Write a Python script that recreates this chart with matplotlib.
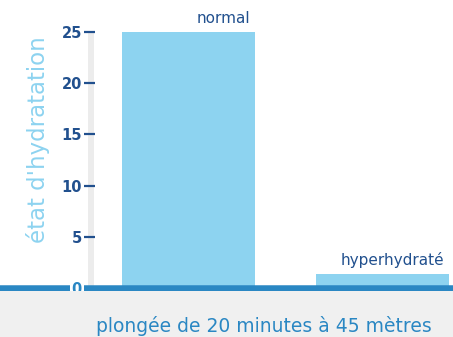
import matplotlib
matplotlib.use("Agg")
import matplotlib.pyplot as plt
from matplotlib.patches import Rectangle

categories = ["normal", "hyperhydraté"]
values = [25, 1.4]
yticks = [0, 5, 10, 15, 20, 25]
ylabel = "état d'hydratation"
xlabel = "plongée de 20 minutes à 45 mètres"

BAR = "#8dd3f0"
LINE = "#2a87c3"
NAVY = "#21508e"
GRAY = "#f0f0f0"

plt.rcParams['font.family'] = ['DejaVu Sans']

W, H = 453, 337
fig = plt.figure(figsize=(W / 100, H / 100), dpi=100)
fig.patch.set_facecolor("white")

# gray bottom band
fig.patches.append(Rectangle((0, 0), 1, (H - 291) / H, transform=fig.transFigure,
                             facecolor=GRAY, edgecolor="none", zorder=0))

ax = fig.add_axes([0, (H - 288) / H, 1, 288 / H])
ax.set_facecolor("none")
ax.set_axisbelow(False)
ax.set_ylim(0, 288 / 10.24)
pos = [0, 1]
ax.set_xlim(-188.5 / 194, (W - 188.5) / 194)

ax.bar(pos, values, width=133 / 194, color=BAR, zorder=2)

# baseline
ax.axhline(0, color=LINE, lw=6.5 * 0.72, zorder=2.2, clip_on=False)

# light gray strip behind ticks
ax.add_patch(Rectangle((88 / W, 0), 6 / W, max(yticks), transform=ax.get_yaxis_transform(),
                       facecolor="#ececec", edgecolor="none", zorder=1))

for s in ["top", "right", "bottom"]:
    ax.spines[s].set_visible(False)
ax.spines["left"].set_visible(False)
ax.spines["left"].set_position(("axes", 95 / W))
ax.set_xticks([])
ax.set_yticks(yticks)
ax.set_yticklabels([str(t) for t in yticks])
ax.tick_params(axis="y", length=11 * 0.72, width=1.6, color=NAVY, pad=1.5,
               labelsize=10.5, labelcolor=NAVY)
for lab in ax.get_yticklabels():
    lab.set_fontweight("bold")
ticks = ax.yaxis.get_major_ticks()
ticks[0].tick1line.set_visible(False)
l0 = ax.get_yticklabels()[0]
l0.set_color(LINE)
l0.set_bbox(dict(facecolor="white", edgecolor="none", pad=1.2))

# category labels
for p, v, c in zip(pos, values, categories):
    ax.text(p + 133 / 194 / 2 - 5 / 194, v + 6 / 10.24, c, ha="right", va="bottom",
            color=NAVY, fontsize=11, zorder=4)

fig.text(38.5 / W, 1 - 140 / H, ylabel, rotation=90, ha="center", va="center",
         color=BAR, fontsize=16.5)
fig.text(263.5 / W, 1 - 326 / H, xlabel, ha="center", va="center",
         color=LINE, fontsize=13.5)

fig.savefig("out.png", dpi=100)
